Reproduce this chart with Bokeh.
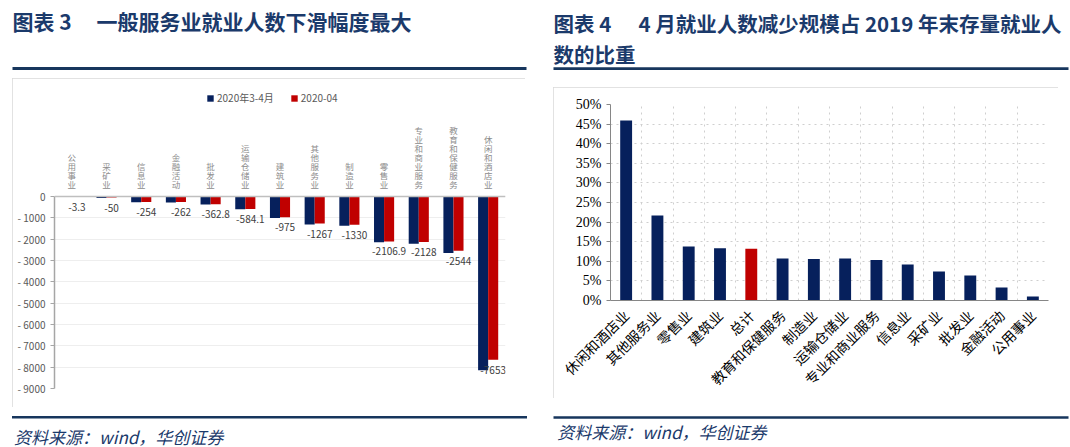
import math
from bokeh.plotting import figure
from bokeh.models import (ColumnDataSource, FactorRange, Range1d, Span, Spacer,
                          Legend, LegendItem, FixedTicker, NumeralTickFormatter)
from bokeh.transform import dodge
from bokeh.layouts import row, column
from bokeh.core.properties import value
from bokeh.embed import file_html
from bokeh.resources import INLINE

# ---------------- data: left chart (图表 3) ----------------
left_categories = ["公用事业", "采矿业", "信息业", "金融活动", "批发业", "运输仓储业", "建筑业",
                   "其他服务业", "制造业", "零售业", "专业和商业服务", "教育和保健服务", "休闲和酒店业"]
left_series_names = ["2020年3-4月", "2020-04"]
mar_apr_2020 = [-8, -70, -270, -280, -380, -600, -1005, -1310, -1375, -2150, -2220, -2650, -8140]
apr_2020 = [-3.3, -50, -254, -262, -362.8, -584.1, -975, -1267, -1330, -2106.9, -2128, -2544, -7653]
left_y_ticks = [0, -1000, -2000, -3000, -4000, -5000, -6000, -7000, -8000, -9000]

# ---------------- data: right chart (图表 4) ----------------
right_categories = ["休闲和酒店业", "其他服务业", "零售业", "建筑业", "总计", "教育和保健服务", "制造业",
                    "运输仓储业", "专业和商业服务", "信息业", "采矿业", "批发业", "金融活动", "公用事业"]
right_share_pct = [45.9, 21.7, 13.8, 13.3, 13.2, 10.7, 10.6, 10.7, 10.3, 9.2, 7.4, 6.4, 3.3, 1.0]
right_y_ticks = [0, 0.05, 0.10, 0.15, 0.20, 0.25, 0.30, 0.35, 0.40, 0.45, 0.50]

# ---------------- texts ----------------
title_left_a = "图表 3"
title_left_b = "一般服务业就业人数下滑幅度最大"
title_right_a = "图表 4"
title_right_b = "4 月就业人数减少规模占 2019 年末存量就业人"
title_right_c = "数的比重"
source_text = "资料来源：wind，华创证券"

NAVY = "#06205c"
RED = "#c00000"
TITLE_COLOR = "#1b3a6b"
RULE_COLOR = "#17365d"
BOX_STYLE = {"outline": "1px solid #d9d9d9", "outline-offset": "-1px"}
CJK = "Noto Sans CJK SC"


def deco_fig(w, h):
    """A blank figure whose frame is the whole canvas, in pixel coordinates (y downwards)."""
    f = figure(width=w, height=h, frame_width=w, frame_height=h,
               x_range=Range1d(0, w), y_range=Range1d(h, 0),
               x_axis_location=None, y_axis_location=None,
               output_backend="svg", toolbar_location=None, min_border=0)
    f.outline_line_color = None
    f.grid.visible = False
    return f


def deco_text(f, x, y, txt, size, style="normal"):
    f.text(x=[x], y=[y], text=[txt], text_font=value(CJK), text_font_size=f"{size}px",
           text_font_style=style, text_color=TITLE_COLOR,
           text_align="left", text_baseline="middle")


def deco_rule(f, x0, x1, y0, y1):
    f.quad(left=[x0], right=[x1], top=[y0], bottom=[y1], fill_color=RULE_COLOR, line_color=None)


# ================= LEFT PANEL =================
titleL = deco_fig(540, 78)
deco_text(titleL, 12, 20, title_left_a, 21, "bold")
deco_text(titleL, 96, 20, title_left_b, 21, "bold")
deco_rule(titleL, 12, 526, 66.5, 69.5)

# chart box geometry (pixels inside the chart figure)
LW, LH = 513, 329
L_left, L_right, L_top, L_bottom = 42, 20, 10, 19
L_zero_px, L_min_px = 118, 310          # pixel rows of 0 and -9000 from the top of the chart figure
y_min = left_y_ticks[-1]
y_top = (L_zero_px - L_top) * (-y_min) / (L_min_px - L_zero_px)

src_l = ColumnDataSource(dict(cat=left_categories, v1=mar_apr_2020, v2=apr_2020,
                              lab=[("%g" % v) for v in apr_2020],
                              vlab=["\n".join(c) for c in left_categories]))

pL = figure(width=LW, height=LH, frame_width=LW - L_left - L_right, frame_height=LH - L_top - L_bottom,
            x_range=FactorRange(factors=left_categories), y_range=Range1d(y_min, y_top),
            x_axis_location=None, output_backend="svg", toolbar_location=None,
            min_border_left=L_left, min_border_right=L_right,
            min_border_top=L_top, min_border_bottom=L_bottom)
pL.outline_line_color = None
pL.styles = BOX_STYLE

pL.xgrid.visible = False
pL.ygrid.grid_line_color = "#eeeeee"
pL.ygrid.ticker = FixedTicker(ticks=left_y_ticks)
pL.ygrid.bounds = (y_min, 0)

r1 = pL.vbar(x=dodge("cat", -0.145, range=pL.x_range), top="v1", bottom=0, width=0.29,
             source=src_l, fill_color=NAVY, line_color=None)
r2 = pL.vbar(x=dodge("cat", 0.145, range=pL.x_range), top="v2", bottom=0, width=0.29,
             source=src_l, fill_color=RED, line_color=None)
pL.add_layout(Span(location=0, dimension="width", line_color="#bfbfbf", line_width=1.5))
pL.text(x=dodge("cat", 0.145, range=pL.x_range), y="v2", text="lab", source=src_l,
        text_align="center", text_baseline="top", y_offset=6,
        text_font=value(CJK), text_font_size="10px", text_color="#404040")
# stacked category names above the zero line
pL.text(x="cat", y=0, text="vlab", source=src_l, text_align="center", text_baseline="bottom",
        y_offset=-6, text_font=value(CJK), text_font_size="8.5px", text_line_height=0.76,
        text_color="#8c8c8c")

pL.yaxis.ticker = FixedTicker(ticks=left_y_ticks)
pL.yaxis.bounds = (y_min, 0)
pL.yaxis.major_label_overrides = {t: ("- %d" % -t if t < 0 else "%d" % t) for t in left_y_ticks}
pL.yaxis.major_label_text_font = CJK
pL.yaxis.major_label_text_font_size = "10px"
pL.yaxis.major_label_text_color = "#595959"
pL.yaxis.axis_line_color = "#a6a6a6"
pL.yaxis.axis_line_width = 1.5
pL.yaxis.major_tick_line_color = "#a6a6a6"
pL.yaxis.major_tick_in = 0
pL.yaxis.major_tick_out = 4
pL.yaxis.minor_tick_line_color = None

legL = Legend(items=[LegendItem(label=left_series_names[0], renderers=[r1]),
                     LegendItem(label=left_series_names[1], renderers=[r2])],
              orientation="horizontal", location=(152, 283),
              label_text_font=CJK, label_text_font_size="10px", label_text_color="#595959",
              glyph_width=8, glyph_height=8, label_standoff=3, spacing=16,
              padding=2, margin=0, border_line_color=None, background_fill_alpha=0)
pL.add_layout(legL)

sourceL = deco_fig(540, 40)
deco_rule(sourceL, 11.5, 526.5, 8.5, 11)
deco_text(sourceL, 13.6, 28.5, source_text, 17, "italic")

left_panel = column(column(titleL), row(Spacer(width=12, height=LH), pL), column(sourceL))

# ================= RIGHT PANEL =================
titleR = deco_fig(530, 87)
deco_text(titleR, 13, 22, title_right_a, 20.5, "bold")
deco_text(titleR, 98, 22, title_right_b, 20.5, "bold")
deco_text(titleR, 13, 53, title_right_c, 20.5, "bold")
deco_rule(titleR, 13, 528, 66.7, 69.5)

RW, RH = 505, 308
R_left, R_right, R_top, R_bottom = 57, 10, 17, 95
src_r = ColumnDataSource(dict(cat=right_categories, share=[v / 100 for v in right_share_pct],
                              color=[RED if c == "总计" else NAVY for c in right_categories]))

pR = figure(width=RW, height=RH, frame_width=RW - R_left - R_right, frame_height=RH - R_top - R_bottom,
            x_range=FactorRange(factors=right_categories),
            y_range=Range1d(0, 0.5), output_backend="svg", toolbar_location=None,
            min_border_left=R_left, min_border_right=R_right,
            min_border_top=R_top, min_border_bottom=R_bottom)
pR.outline_line_color = None
pR.styles = BOX_STYLE

pR.vbar(x="cat", top="share", bottom=0, width=0.38, source=src_r,
        fill_color="color", line_color=None)

pR.yaxis.ticker = FixedTicker(ticks=right_y_ticks)
pR.yaxis.formatter = NumeralTickFormatter(format="0%")
pR.yaxis.major_label_text_font = "Liberation Serif"
pR.yaxis.major_label_text_font_size = "14px"
pR.yaxis.major_label_text_color = "#000000"
pR.yaxis.axis_line_color = "#868686"
pR.yaxis.major_tick_line_color = "#868686"
pR.yaxis.major_tick_in = 0
pR.yaxis.major_tick_out = 4
pR.yaxis.minor_tick_line_color = None

pR.xaxis.major_label_orientation = math.pi / 4
pR.xaxis.major_label_text_font = CJK
pR.xaxis.major_label_text_font_size = "14px"
pR.xaxis.major_label_text_color = "#000000"
pR.xaxis.major_label_standoff = 6
pR.xaxis.axis_line_color = "#868686"
pR.xaxis.major_tick_line_color = None

pR.ygrid.grid_line_color = "#cfcfcf"
pR.ygrid.grid_line_dash = "dotted"
pR.ygrid.ticker = FixedTicker(ticks=right_y_ticks)
pR.xgrid.grid_line_color = "#cfcfcf"
pR.xgrid.grid_line_dash = "dotted"
pR.xgrid.ticker = FixedTicker(ticks=list(range(len(right_categories) + 1)))

sourceR = deco_fig(530, 52)
deco_rule(sourceR, 13, 528, 17.7, 20.3)
deco_text(sourceR, 16.7, 32.5, source_text, 17, "italic")

right_panel = column(column(titleR), row(Spacer(width=13, height=RH), pR), column(sourceR))

layout = row(left_panel, right_panel)
open("out.html", "w").write(file_html(layout, INLINE))
